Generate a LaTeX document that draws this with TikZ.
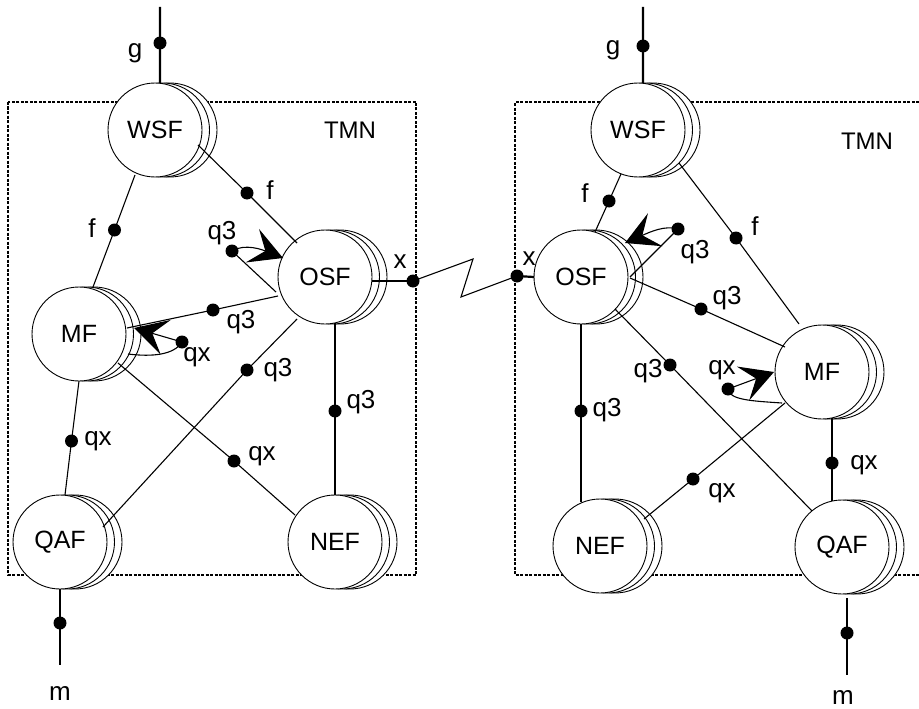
\documentclass[tikz,border=0pt]{standalone}
\usepackage{fontspec}
\setmainfont{Liberation Sans}
\usetikzlibrary{arrows.meta,calc}
\newcommand\stackfn[3]{%
  \node[circ] (#1b2) at ($(#2)+(15,0)$) {};
  \node[circ] (#1b1) at ($(#2)+(7.5,0)$) {};
  \node[circ] (#1) at (#2) {#3};}
\begin{document}
\begin{tikzpicture}[x=1pt,y=-1pt,
  circ/.style={circle,draw,fill=white,line width=0.9pt,minimum size=94pt,inner sep=0pt,outer sep=0pt,font=\fontsize{25}{28}\selectfont},
  dotn/.style={circle,fill=black,inner sep=0pt,minimum size=13pt},
  lab/.style={inner sep=0pt,font=\fontsize{26}{28}\selectfont},
  tmn/.style={inner sep=0pt,font=\fontsize{24}{28}\selectfont},
  conn/.style={line width=1.1pt},
  thickconn/.style={line width=2.2pt},
  loopar/.style={line width=1.1pt,-{Stealth[length=33pt,width=36pt,inset=14pt]}},
  tmnbox/.style={dash pattern=on 3pt off 1.5pt,line width=1.3pt}]
\useasboundingbox (0,0) rectangle (919,709);
% TMN boxes
\draw[tmnbox] (8,102) rectangle (416,575);
\draw[tmnbox] (919,102) -- (515,102) -- (515,575) -- (919,575);
% stacked function blocks
\stackfn{lWSF}{155,130}{WSF}
\stackfn{lOSF}{325,277}{OSF}
\stackfn{lMF}{79,334}{MF}
\stackfn{lQAF}{60,542}{QAF}
\stackfn{lNEF}{335,542}{NEF}
\stackfn{rWSF}{638,130}{WSF}
\stackfn{rOSF}{581,277}{OSF}
\stackfn{rMF}{822,372}{MF}
\stackfn{rNEF}{600,546}{NEF}
\stackfn{rQAF}{842,547}{QAF}
% reference point dots
\node[dotn] (dlg) at (160,43) {};
\node[dotn] (dlf1) at (114.5,230) {};
\node[dotn] (dlf2) at (247,193) {};
\node[dotn] (dlq3l) at (232,251) {};
\node[dotn] (dlq3a) at (213,310) {};
\node[dotn] (dlqxl) at (182,342) {};
\node[dotn] (dlq3b) at (247,370) {};
\node[dotn] (dlqxa) at (234,461) {};
\node[dotn] (dlq3c) at (335,411) {};
\node[dotn] (dlqxb) at (71.5,441) {};
\node[dotn] (dlx) at (413,281) {};
\node[dotn] (dlm) at (60,623) {};
\node[dotn] (drg) at (643,46) {};
\node[dotn] (drf1) at (609,201) {};
\node[dotn] (drf2) at (736,238) {};
\node[dotn] (drq3l) at (678,229) {};
\node[dotn] (drq3b) at (701,309) {};
\node[dotn] (drqxl) at (728,389) {};
\node[dotn] (drq3c) at (670,365) {};
\node[dotn] (drqxa) at (693,479) {};
\node[dotn] (drq3d) at (581,411) {};
\node[dotn] (drqxb) at (832,463) {};
\node[dotn] (drx) at (517,276) {};
\node[dotn] (drm) at (847,633) {};
\coordinate (lgend) at (160,7);
\coordinate (lmend) at (60,665);
\coordinate (rgend) at (643,7);
\coordinate (rmend) at (847,675);
\coordinate (zz1) at (473,259);
\coordinate (zz2) at (461,297);
% left connectors
\draw[thickconn] (lgend) -- (dlg.center) -- (lWSF.84);
\draw[conn] ($(lWSF)+(-20,45)$) -- (dlf1.center) -- ($(lMF)+(14,-47)$);
\draw[conn] ($(lWSF)+(43,15)$) -- (dlf2.center) -- ($(lOSF)+(-28,-34)$);
\draw[conn] ($(lOSF)+(-47,19)$) -- (dlq3a.center) -- ($(lMF)+(48,-6)$);
\draw[conn] ($(lOSF)+(-28,42)$) -- (dlq3b.center) -- ($(lQAF)+(43,-15)$);
\draw[conn] ($(lMF)+(39,29)$) -- (dlqxa.center) -- ($(lNEF)+(-40,-27)$);
\draw[thickconn] ($(lOSF)+(10,46)$) -- (dlq3c.center) -- ($(lNEF)+(0,-47)$);
\draw[conn] ($(lMF)+(0,47)$) -- (dlqxb.center) -- ($(lQAF)+(5,-47)$);
\draw[thickconn] ($(lOSF)+(47,4)$) -- (dlx.center);
\draw[thickconn] ($(lQAF)+(0,47)$) -- (dlm.center) -- (lmend);
\draw[loopar] ($(lOSF)+(-49,15)$) -- (dlq3l.center) .. controls (245,243) and (263,250) .. ($(lOSF)+(-42,-19)$);
\draw[loopar] ($(lMF)+(49,20)$) .. controls (152,357) and (174,355) .. (dlqxl.center) -- ($(lMF)+(55,-6)$);
% interconnection
\draw[conn] (dlx.center) -- (zz1) -- (zz2) -- (drx.center);
\draw[thickconn] (drx.center) -- ($(rOSF)+(-47,0)$);
% right connectors
\draw[thickconn] (rgend) -- (drg.center) -- (rWSF.84);
\draw[conn] ($(rWSF)+(-17,44)$) -- (drf1.center) -- ($(rOSF)+(14,-45)$);
\draw[conn] ($(rWSF)+(41,33)$) -- (drf2.center) -- ($(rMF)+(-23,-48)$);
\draw[conn] ($(rOSF)+(49,1)$) -- (drq3b.center) -- ($(rMF)+(-37,-25)$);
\draw[conn] ($(rOSF)+(34,32)$) -- (drq3c.center) -- ($(rQAF)+(-30,-36)$);
\draw[conn] ($(rMF)+(-37,31)$) -- (drqxa.center) -- ($(rNEF)+(44,-27)$);
\draw[thickconn] ($(rOSF)+(0,47)$) -- (drq3d.center) -- ($(rNEF)+(-19,-44)$);
\draw[thickconn] ($(rMF)+(10,46)$) -- (drqxb.center) -- ($(rQAF)+(-10,-46)$);
\draw[thickconn] ($(rQAF)+(5,51)$) -- (drm.center) -- (rmend);
\draw[loopar] ($(rOSF)+(49,0)$) -- (drq3l.center) .. controls (665,225) and (650,232) .. ($(rOSF)+(44,-34)$);
\draw[loopar] ($(rMF)+(-40,31)$) .. controls (752,401) and (729,400) .. (drqxl.center) -- ($(rMF)+(-48,0)$);
% labels left
\node[lab] (tlg) at (135,53) {g};
\node[lab] (tlf1) at (92,228) {f};
\node[lab] (tlf2) at (270,190) {f};
\node[lab] (tlq3l) at (222,233) {q3};
\node[lab] (tlq3a) at (241,322) {q3};
\node[lab] (tlqxl) at (197,357) {qx};
\node[lab] (tlq3b) at (278,370) {q3};
\node[lab] (tlqxa) at (262,456) {qx};
\node[lab] (tlq3c) at (361,402) {q3};
\node[lab] (tlqxb) at (98,441) {qx};
\node[lab] (tlx) at (400,262) {x};
\node[lab] (tlm) at (60,693) {m};
\node[tmn] (tltmn) at (350,130) {TMN};
% labels right
\node[lab] (trg) at (613,50) {g};
\node[lab] (trf1) at (585,193) {f};
\node[lab] (trf2) at (755,226) {f};
\node[lab] (trq3l) at (695,252) {q3};
\node[lab] (trq3b) at (727,298) {q3};
\node[lab] (trqxl) at (722,370) {qx};
\node[lab] (trq3c) at (648,371) {q3};
\node[lab] (trqxa) at (722,493) {qx};
\node[lab] (trq3d) at (607,410) {q3};
\node[lab] (trqxb) at (864,465) {qx};
\node[lab] (trx) at (529,259) {x};
\node[lab] (trm) at (843,697) {m};
\node[tmn] (trtmn) at (867,141) {TMN};
\end{tikzpicture}
\end{document}
